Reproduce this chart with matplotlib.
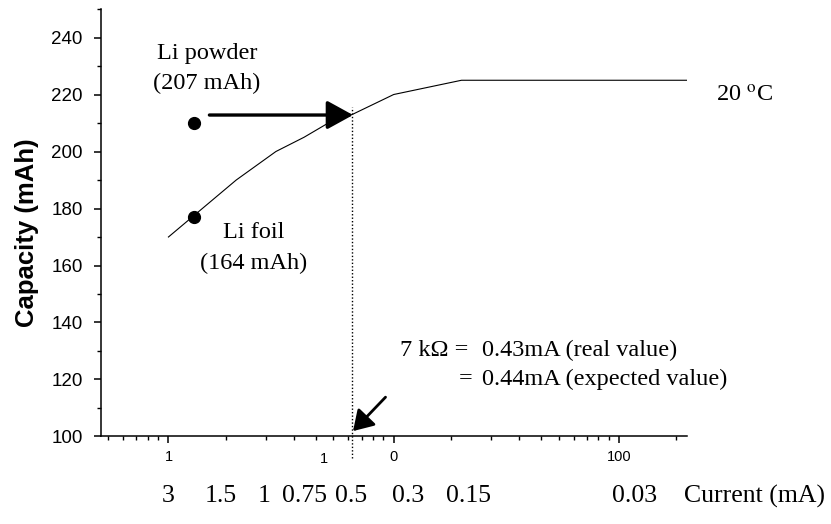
import matplotlib
matplotlib.use("Agg")
import matplotlib.pyplot as plt
from matplotlib.ticker import FixedLocator, NullFormatter

plt.rcParams['font.family'] = ['Liberation Sans', 'DejaVu Sans']
plt.rcParams['mathtext.fontset'] = 'stix'
serif = ['Liberation Serif', 'DejaVu Serif']

# capacity curve vs load resistance (kOhm), 20 C
resistance = [1, 2, 3, 4, 5, 5.4, 6.55, 10, 20, 200]
capacity = [170, 190, 200, 205, 209.5, 211, 213, 220, 225, 225]

# single points
li_R = 1.3
li_powder_cap = 210
li_foil_cap = 177

# 7 kOhm marker
marker_R = 6.55

# current labels (mA) under the axis, placed at their resistance
current_labels = ['3', '1.5', '1', '0.75', '0.5', '0.3', '0.15', '0.03']
current_R = [1.0, 1.70, 2.66, 4.0, 6.45, 11.6, 21.4, 117]

# top tick labels as they appear
major_ticks = [1, 10, 100]
major_labels = ['1', '0', '100']

fig = plt.figure(figsize=(8.31, 5.24), dpi=100)
ax = fig.add_axes([0.1211, 0.167, 0.7053, 0.8158])

ax.plot(resistance, capacity, color='black', lw=0.8)
ax.plot([li_R, li_R], [li_powder_cap, li_foil_cap], 'o', color='black', ms=8.5, ls='none')

ax.set_xscale('log')
ax.set_xlim(0.5, 200)
ax.set_ylim(100, 250)

ax.xaxis.set_major_locator(FixedLocator(major_ticks))
ax.set_xticklabels(major_labels)
minor = [0.9 * k * 10 ** d for d in (-1, 0, 1, 2) for k in range(2, 11)]
minor = [m for m in minor if 0.5 < m <= 200 and m not in major_ticks]
ax.xaxis.set_minor_locator(FixedLocator(minor))
ax.xaxis.set_minor_formatter(NullFormatter())

ax.set_yticks(range(100, 241, 20))
ax.set_yticks(range(110, 251, 20), minor=True)

for s in ['top', 'right']:
    ax.spines[s].set_visible(False)
for s in ['left', 'bottom']:
    ax.spines[s].set_linewidth(1.1)

ax.tick_params(axis='x', which='major', direction='out', length=5, width=1.1, labelsize=10.5, pad=5)
ax.tick_params(axis='x', which='minor', direction='out', length=3, width=1.0)
ax.tick_params(axis='y', which='major', direction='out', length=5, width=1.1, labelsize=13.5, pad=8)
ax.tick_params(axis='y', which='minor', direction='out', length=3, width=1.0)

fig.text(27.5 / 831, 0.555, 'Capacity (mAh)', fontsize=18.5, fontweight='bold',
         rotation=90, ha='center', va='center')

# stray tick label
ax.text(4.9, 94.5, '1', fontsize=10.5, ha='center', va='top')

# dotted line at 7 kOhm
ax.plot([marker_R, marker_R], [92.3, 215.7], color='black', lw=1.0, ls=(0, (1, 1.5)), clip_on=False)

# big arrow from Li powder
ax.annotate('', xy=(6.6, 212.8), xytext=(1.52, 212.8),
            arrowprops=dict(arrowstyle='-|>,head_length=0.4,head_width=0.22', lw=2.4,
                            color='black', mutation_scale=40, shrinkA=0, shrinkB=0))
# small arrow at axis
ax.annotate('', xy=(6.6, 101.9), xytext=(9.2, 113.8),
            arrowprops=dict(arrowstyle='-|>,head_length=0.4,head_width=0.25', lw=2.0,
                            color='black', mutation_scale=30, shrinkA=0, shrinkB=0),
            annotation_clip=False)

fs = 17.5
ax.text(1.486, 234.5, 'Li powder', fontsize=fs, family=serif, ha='center', va='center')
ax.text(1.486, 224, '(207 mAh)', fontsize=fs, family=serif, ha='center', va='center')
ax.text(2.38, 171.6, 'Li foil', fontsize=fs, family=serif, ha='center', va='center')
ax.text(2.38, 160.8, '(164 mAh)', fontsize=fs, family=serif, ha='center', va='center')
ax.text(270, 219.5, r'20 $^{\mathrm{o}}$C', fontsize=fs, family=serif, ha='left', va='center',
        clip_on=False)

ax.text(10.7, 130.1, '7 k\u03a9 =', fontsize=fs, family=serif, ha='left', va='center')
ax.text(24.7, 130.1, '0.43mA (real value)', fontsize=fs, family=serif, ha='left', va='center')
ax.text(19.4, 120.2, '=', fontsize=fs, family=serif, ha='left', va='center')
ax.text(24.7, 120.2, '0.44mA (expected value)', fontsize=fs, family=serif, ha='left', va='center')

# current row
fs2 = 18.5
for lab, r in zip(current_labels, current_R):
    ax.text(r, 79, lab, fontsize=fs2, family=serif, ha='center', va='center', clip_on=False)
ax.text(400, 79, 'Current (mA)', fontsize=fs2, family=serif, ha='center', va='center', clip_on=False)

fig.savefig('out.png', dpi=100)
